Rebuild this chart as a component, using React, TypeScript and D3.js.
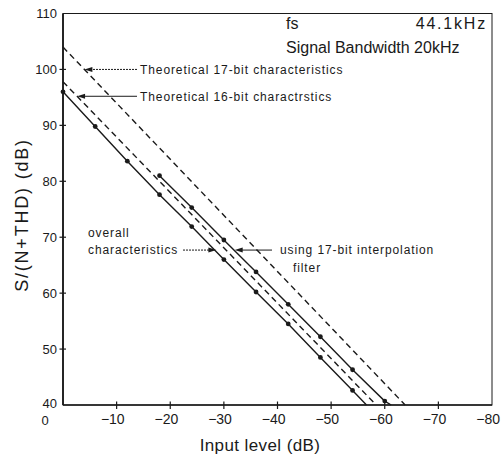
import React, { useEffect, useRef } from "react";
import * as d3 from "d3";

// axis ticks
const xTicks = [0, -10, -20, -30, -40, -50, -60, -70, -80];
const yTicks = [40, 50, 60, 70, 80, 90, 100, 110];

// theoretical lines (input dB, S/(N+THD) dB)
const theoretical17 = [[0, 104], [-63.8, 40]];
const theoretical16 = [[0, 97.8], [-58.4, 40]];

// measured: overall characteristics
const overallDots = [
  [0, 96], [-6, 89.8], [-12, 83.6], [-18, 77.6], [-24, 71.9],
  [-30, 66], [-36, 60.2], [-42, 54.5], [-48, 48.5], [-54, 42.6],
];
const overallEnd = [-56.6, 40];

// measured: using 17-bit interpolation filter
const interpDots = [
  [-18, 81], [-24, 75.3], [-30, 69.5], [-36, 63.8],
  [-42, 58], [-48, 52.2], [-54, 46.3], [-60, 40.7],
];
const interpEnd = [-61.2, 40];

const FONT = "'Liberation Sans', Arial, sans-serif";
const INK = "#1a1a1a";

const Chart = () => {
  const svgRef = useRef(null);

  useEffect(() => {
    const svg = d3.select(svgRef.current);
    svg.selectAll("*").remove();

    const x = d3.scaleLinear().domain([0, -80]).range([63, 492]);
    const y = d3.scaleLinear().domain([40, 110]).range([405, 13.5]);

    // frame
    svg.append("rect")
      .attr("x", x(0)).attr("y", y(110))
      .attr("width", x(-80) - x(0)).attr("height", y(40) - y(110))
      .attr("fill", "none").attr("stroke", INK).attr("stroke-width", 1);
    // heavier left and bottom axes
    svg.append("line").attr("x1", x(0)).attr("x2", x(0)).attr("y1", y(110)).attr("y2", y(40))
      .attr("stroke", INK).attr("stroke-width", 1.8);
    svg.append("line").attr("x1", x(0)).attr("x2", x(-80)).attr("y1", y(40)).attr("y2", y(40))
      .attr("stroke", INK).attr("stroke-width", 1.5);

    // y ticks
    yTicks.filter((d) => d > 40 && d < 110).forEach((d) => {
      svg.append("line").attr("x1", x(0) - 3.5).attr("x2", x(0) + 3).attr("y1", y(d)).attr("y2", y(d))
        .attr("stroke", INK).attr("stroke-width", 1.2);
    });
    yTicks.forEach((d) => {
      svg.append("text").attr("x", 57).attr("y", d === 40 ? y(d) - 2 : y(d)).attr("dy", "0.36em")
        .attr("text-anchor", "end").attr("font-family", FONT).attr("font-size", 13)
        .attr("fill", INK).text(d);
    });

    // x ticks
    xTicks.filter((d) => d < 0 && d > -80).forEach((d) => {
      svg.append("line").attr("x1", x(d)).attr("x2", x(d)).attr("y1", y(40) - 3.5).attr("y2", y(40) + 4)
        .attr("stroke", INK).attr("stroke-width", 1.2);
    });
    xTicks.forEach((d) => {
      const t = svg.append("text").attr("y", 419).attr("dy", "0.36em")
        .attr("font-family", FONT).attr("font-size", 14).attr("fill", INK);
      if (d === 0) {
        t.attr("x", x(0) - 18).attr("y", 420).attr("font-size", 13)
          .attr("text-anchor", "middle").text("0");
      } else {
        t.attr("x", x(d) + 8).attr("text-anchor", "end").text("\u2212" + Math.abs(d));
      }
    });

    // axis titles
    svg.append("text").attr("x", 260).attr("y", 445).attr("dy", "0.36em")
      .attr("text-anchor", "middle").attr("font-family", FONT).attr("font-size", 17)
      .attr("letter-spacing", 0.4).attr("fill", INK).text("Input level (dB)");
    svg.append("text")
      .attr("transform", "translate(22,215) rotate(-90)")
      .attr("dy", "0.36em").attr("text-anchor", "middle").attr("font-family", FONT)
      .attr("font-size", 18).attr("letter-spacing", 1.8).attr("fill", INK)
      .text("S/(N+THD) (dB)");

    // top-right notes
    svg.append("text").attr("x", 286).attr("y", 23).attr("dy", "0.36em")
      .attr("font-family", FONT).attr("font-size", 16).attr("fill", INK).text("fs");
    svg.append("text").attr("x", 487).attr("y", 23).attr("dy", "0.36em").attr("text-anchor", "end")
      .attr("font-family", FONT).attr("font-size", 16).attr("letter-spacing", 1.8)
      .attr("fill", INK).text("44.1kHz");
    svg.append("text").attr("x", 286).attr("y", 47).attr("dy", "0.36em")
      .attr("font-family", FONT).attr("font-size", 16).attr("fill", INK)
      .text("Signal Bandwidth 20kHz");

    const line = d3.line().x((d) => x(d[0])).y((d) => y(d[1]));

    // theoretical dashed lines
    [theoretical17, theoretical16].forEach((pts) => {
      svg.append("path").attr("d", line(pts)).attr("fill", "none")
        .attr("stroke", INK).attr("stroke-width", 1.4).attr("stroke-dasharray", "6,4");
    });

    // measured solid lines with dots
    [[overallDots, overallEnd], [interpDots, interpEnd]].forEach(([dots, end]) => {
      svg.append("path").attr("d", line([...dots, end])).attr("fill", "none")
        .attr("stroke", INK).attr("stroke-width", 1.4);
      svg.selectAll(null).data(dots).enter().append("circle")
        .attr("cx", (d) => x(d[0])).attr("cy", (d) => y(d[1])).attr("r", 2.4).attr("fill", INK);
    });

    // annotations with arrows
    const crossX = (pts, yv) => {
      const [a, b] = [pts[0], pts[pts.length - 1]];
      return a[0] + ((yv - a[1]) * (b[0] - a[0])) / (b[1] - a[1]);
    };
    const arrow = (tipX, tipY, fromX, dotted) => {
      const dir = Math.sign(fromX - tipX);
      svg.append("line").attr("x1", fromX).attr("x2", tipX + dir * 5).attr("y1", tipY).attr("y2", tipY)
        .attr("stroke", INK).attr("stroke-width", 1)
        .attr("stroke-dasharray", dotted ? "2,1" : null);
      svg.append("path")
        .attr("d", `M${tipX},${tipY}L${tipX + dir * 8},${tipY - 2.5}L${tipX + dir * 8},${tipY + 2.5}Z`)
        .attr("fill", INK);
    };
    const label = (tx, ty, lines, anchor = "start") => {
      lines.forEach((s, i) => {
        svg.append("text").attr("x", tx + (i === 1 && anchor === "indent" ? 13 : 0))
          .attr("y", ty + i * 17.5).attr("dy", "0.36em")
          .attr("font-family", FONT).attr("font-size", 12).attr("letter-spacing", 0.9)
          .attr("fill", INK).text(s);
      });
    };

    const y17 = 100;
    arrow(x(crossX(theoretical17, y17)), y(y17), 137, true);
    label(140, y(y17), ["Theoretical 17-bit characteristics"]);

    const y16 = 95.2;
    arrow(x(crossX(theoretical16, y16)), y(y16), 137, false);
    label(140, y(y16), ["Theoretical 16-bit charactrstics"]);

    const yo = 67.7;
    arrow(x(crossX([overallDots[0], overallEnd], yo)), y(yo), 183, true);
    label(88, y(yo) - 17.5, ["overall", "characteristics"]);

    arrow(x(crossX([interpDots[0], interpEnd], yo)), y(yo), 272, false);
    label(280, y(yo), ["using 17-bit interpolation", "filter"], "indent");
  }, []);

  return (
    <svg
      ref={svgRef}
      width={503}
      height={455}
      style={{ position: "absolute", left: 0, top: 0, background: "#fff" }}
    ></svg>
  );
};

export default function App() {
  return <Chart />;
}
